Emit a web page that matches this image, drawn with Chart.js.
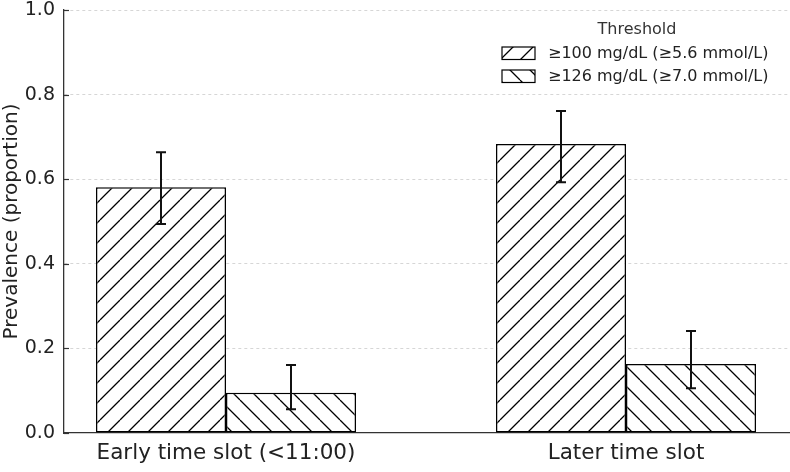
<!DOCTYPE html>
<html>
<head>
<meta charset="utf-8">
<script src="https://cdn.jsdelivr.net/npm/chart.js@4.4.1/dist/chart.umd.min.js"></script>
<style>
  html, body { margin: 0; padding: 0; background: #fff; }
</style>
</head>
<body>
<canvas id="prevChart" width="790" height="472"></canvas>
<script>
// Prevalence by time slot, two glucose thresholds
const groupLabels = ['Early time slot (<11:00)', 'Later time slot'];
const seriesNames = ['≥100 mg/dL (≥5.6 mmol/L)', '≥126 mg/dL (≥7.0 mmol/L)'];
const prev100 = [0.581, 0.683];
const low100 = [0.494, 0.593];
const high100 = [0.664, 0.761];
const prev126 = [0.095, 0.163];
const low126 = [0.056, 0.106];
const high126 = [0.161, 0.241];
const yTicks = [0, 0.2, 0.4, 0.6, 0.8, 1.0];

Chart.defaults.font.family = '"DejaVu Sans", sans-serif';
Chart.defaults.color = '#222';

const canvas = document.getElementById('prevChart');
const ctx = canvas.getContext('2d');

// hatch fill: dir 1 = "/", dir -1 = "\"
function hatch(dir) {
  const s = 20;
  const c = document.createElement('canvas');
  c.width = s; c.height = s;
  const g = c.getContext('2d');
  g.fillStyle = '#fff';
  g.fillRect(0, 0, s, s);
  g.strokeStyle = '#000';
  g.lineWidth = 1.3;
  g.beginPath();
  for (let k = -1; k <= 1; k++) {
    if (dir > 0) { g.moveTo(k * s, s); g.lineTo(k * s + s, 0); }
    else { g.moveTo(k * s, 0); g.lineTo(k * s + s, s); }
  }
  g.stroke();
  return ctx.createPattern(c, 'repeat');
}

const errorBars = {
  id: 'errorBars',
  afterDatasetsDraw(chart) {
    const c = chart.ctx, y = chart.scales.y;
    c.save();
    c.strokeStyle = '#111';
    c.lineWidth = 2;
    chart.data.datasets.forEach((ds, di) => {
      chart.getDatasetMeta(di).data.forEach((bar, i) => {
        const x = bar.x;
        const yl = y.getPixelForValue(ds.lo[i]);
        const yh = y.getPixelForValue(ds.hi[i]);
        c.beginPath();
        c.moveTo(x, yl); c.lineTo(x, yh);
        c.moveTo(x - 5, yl); c.lineTo(x + 5, yl);
        c.moveTo(x - 5, yh); c.lineTo(x + 5, yh);
        c.stroke();
      });
    });
    c.restore();
  }
};

// inward y tick marks + legend drawn over the plot
const extras = {
  id: 'extras',
  afterDraw(chart) {
    const c = chart.ctx, area = chart.chartArea, y = chart.scales.y;
    c.save();
    c.strokeStyle = '#333';
    c.lineWidth = 1.2;
    yTicks.forEach(v => {
      const py = Math.round(y.getPixelForValue(v)) + 0.5;
      c.beginPath();
      c.moveTo(area.left, py);
      c.lineTo(area.left + 5, py);
      c.stroke();
    });

    // legend
    const lx = area.right - 288;
    c.fillStyle = '#333';
    c.font = '16px "DejaVu Sans", sans-serif';
    c.textAlign = 'center';
    c.textBaseline = 'middle';
    c.fillText('Threshold', area.right - 153, 30);
    c.textAlign = 'left';
    chart.data.datasets.forEach((ds, i) => {
      const by = 47 + i * 23;
      c.fillStyle = ds.backgroundColor;
      c.fillRect(lx, by, 33, 12.5);
      c.strokeStyle = '#000';
      c.lineWidth = 1.2;
      c.strokeRect(lx, by, 33, 12.5);
      c.fillStyle = '#222';
      c.fillText(ds.label, lx + 46, by + 7);
    });
    c.restore();
  }
};

new Chart(ctx, {
  type: 'bar',
  data: {
    datasets: [
      {
        label: seriesNames[0],
        data: prev100.map((v, i) => ({ x: i, y: v })),
        lo: low100, hi: high100,
        backgroundColor: hatch(1),
        borderColor: '#000',
        borderWidth: 1.5,
        borderSkipped: false
      },
      {
        label: seriesNames[1],
        data: prev126.map((v, i) => ({ x: i, y: v })),
        lo: low126, hi: high126,
        backgroundColor: hatch(-1),
        borderColor: '#000',
        borderWidth: 1.5,
        borderSkipped: false
      }
    ]
  },
  options: {
    responsive: false,
    animation: false,
    layout: { padding: { top: 10, right: 0, left: 0, bottom: 0 } },
    datasets: { bar: { categoryPercentage: 0.65, barPercentage: 1 } },
    plugins: { legend: { display: false }, tooltip: { enabled: false } },
    scales: {
      x: {
        type: 'linear',
        offset: false,
        min: -0.405,
        max: 1.41,
        afterBuildTicks: s => { s.ticks = groupLabels.map((_, i) => ({ value: i })); },
        ticks: { callback: v => groupLabels[v], font: { size: 21.5 }, color: '#222', padding: 8, maxRotation: 0, autoSkip: false },
        grid: { display: false, drawTicks: false },
        border: { display: true, color: '#333', width: 1.3 },
        afterFit: s => { s.height = 39; s.paddingLeft = 0; s.paddingRight = 0; }
      },
      y: {
        min: 0,
        max: 1,
        afterBuildTicks: s => { s.ticks = yTicks.map(v => ({ value: v })); },
        ticks: { callback: v => v.toFixed(1), font: { size: 19 }, color: '#222', padding: 9 },
        grid: {
          color: c => (c.tick && c.tick.value === 0) ? 'rgba(0,0,0,0)' : '#cccccc',
          lineWidth: 0.8,
          drawTicks: false
        },
        border: { display: true, color: '#333', width: 1.3, dash: [3, 3] },
        title: { display: true, text: 'Prevalence (proportion)', font: { size: 20 }, color: '#222', padding: 0 },
        afterFit: s => { s.width = 64; s.paddingTop = 0; s.paddingBottom = 0; }
      }
    }
  },
  plugins: [errorBars, extras]
});
</script>
</body>
</html>
